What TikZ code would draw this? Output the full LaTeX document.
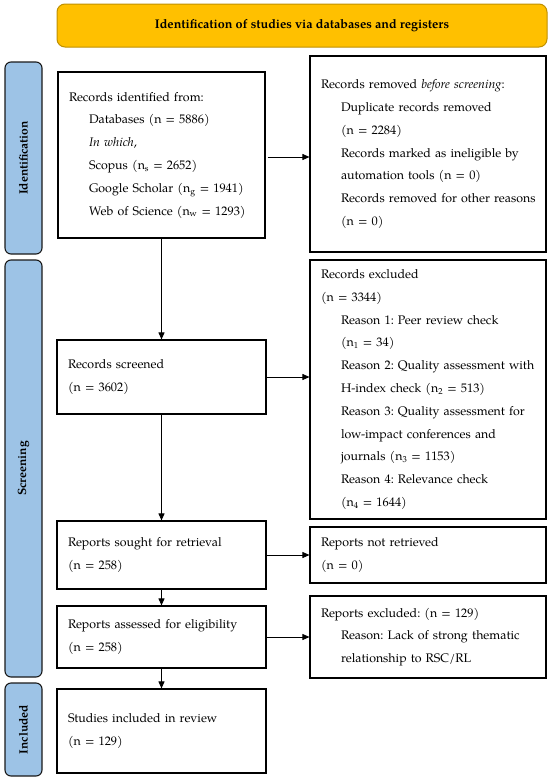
\documentclass[tikz,border=0pt]{standalone}
\usepackage{fontspec}
\setmainfont{TeX Gyre Pagella}
\usetikzlibrary{arrows.meta}
\definecolor{bannerfill}{HTML}{FFC000}
\definecolor{bannerdraw}{HTML}{BF9000}
\definecolor{barfill}{HTML}{9DC3E6}
\definecolor{bardraw}{HTML}{1A1A1A}
\tikzset{
  flowbox/.style={draw=black, line width=1.1pt, rectangle, inner xsep=11pt, inner ysep=0pt,
    align=left, font=\frenchspacing\fontsize{12.4}{22.8}\selectfont, anchor=center},
  leftbox/.style={flowbox, minimum width=209pt, text width=187pt},
  rightbox/.style={flowbox, minimum width=236pt, text width=214pt},
  sidebar/.style={draw=bardraw, fill=barfill, line width=1.1pt, rounded corners=6pt,
    minimum width=37pt, inner sep=0pt, anchor=center},
  sidelabel/.style={font=\bfseries\fontsize{12}{14}\selectfont, rotate=90},
  flowarrow/.style={line width=0.8pt, -{Triangle[length=7pt,width=6pt]}}
}
\newcommand{\ind}{\hspace*{20pt}}
\begin{document}
\begin{tikzpicture}[x=1pt, y=-1pt]
\useasboundingbox (0,0) rectangle (550,779);
% banner
\node[draw=bannerdraw, fill=bannerfill, line width=1pt, rounded corners=8pt,
  minimum width=490pt, minimum height=43pt, inner sep=0pt,
  font=\bfseries\fontsize{12.6}{14}\selectfont] (banner) at (302,25.5)
  {Identification of studies via databases and registers};
% side bars
\node[sidebar, minimum height=192pt] (barid) at (23.5,158) {};
\node[sidelabel] (labid) at (barid.center) {Identification};
\node[sidebar, minimum height=417pt] (barsc) at (23.5,468.5) {};
\node[sidelabel] (labsc) at (barsc.center) {Screening};
\node[sidebar, minimum height=93pt] (barin) at (23.5,729.5) {};
\node[sidelabel] (labin) at (barin.center) {Included};
% left column
\node[leftbox, minimum width=207pt, text width=185pt, minimum height=166pt] (b1) at (161.5,155)
  {Records identified from:\\
   \ind Databases (n = 5886)\\
   \ind \textit{In which},\\
   \ind Scopus (n\textsubscript{s} = 2652)\\
   \ind Google Scholar (n\textsubscript{g} = 1941)\\
   \ind Web of Science (n\textsubscript{w} = 1293)};
\node[leftbox, minimum height=74pt] (b3) at (161.5,377)
  {Records screened\\(n = 3602)};
\node[leftbox, minimum height=68pt] (b5) at (161.5,555)
  {Reports sought for retrieval\\(n = 258)};
\node[leftbox, minimum height=62pt] (b7) at (161.5,637)
  {Reports assessed for eligibility\\(n = 258)};
\node[leftbox, minimum height=84pt] (b9) at (161.5,731)
  {Studies included in review\\(n = 129)};
% right column
\node[rightbox, minimum height=196pt] (b2) at (428,154)
  {Records removed \textit{before screening}:\\
   \ind Duplicate records removed\\
   \ind (n = 2284)\\
   \ind \makebox[194pt][s]{Records marked as ineligible by}\\
   \ind automation tools (n = 0)\\
   \ind \mbox{Records removed for other reasons}\\
   \ind (n = 0)};
\node[rightbox, minimum height=259pt] (b4) at (428,389.5)
  {Records excluded\\
   (n = 3344)\\
   \ind Reason 1: Peer review check\\
   \ind (n\textsubscript{1} = 34)\\
   \ind \makebox[194pt][s]{Reason 2: Quality assessment with}\\
   \ind H-index check (n\textsubscript{2} = 513)\\
   \ind \makebox[194pt][s]{Reason 3: Quality assessment for}\\
   \ind low-impact conferences and\\
   \ind journals (n\textsubscript{3} = 1153)\\
   \ind Reason 4: Relevance check\\
   \ind (n\textsubscript{4} = 1644)};
\node[rightbox, minimum height=56pt] (b6) at (428,555)
  {Reports not retrieved\\(n = 0)};
\node[rightbox, minimum height=82pt] (b8) at (428,637)
  {Reports excluded: (n = 129)\\
   \ind Reason: Lack of strong thematic\\
   \ind relationship to RSC/RL};
% arrows
\draw[flowarrow] (b1.south) -- (b3.north);
\draw[flowarrow] (b3.south) -- (b5.north);
\draw[flowarrow] (b5.south) -- (b7.north);
\draw[flowarrow] (b7.south) -- (b9.north);
\draw[flowarrow] ([xshift=2pt,yshift=-2pt]b1.east) -- ([yshift=-2pt]b1.east -| b2.west);
\draw[flowarrow] (b3.east) -- (b3.east -| b4.west);
\draw[flowarrow] (b5.east) -- (b5.east -| b6.west);
\draw[flowarrow] (b7.east) -- (b7.east -| b8.west);
\end{tikzpicture}
\end{document}
